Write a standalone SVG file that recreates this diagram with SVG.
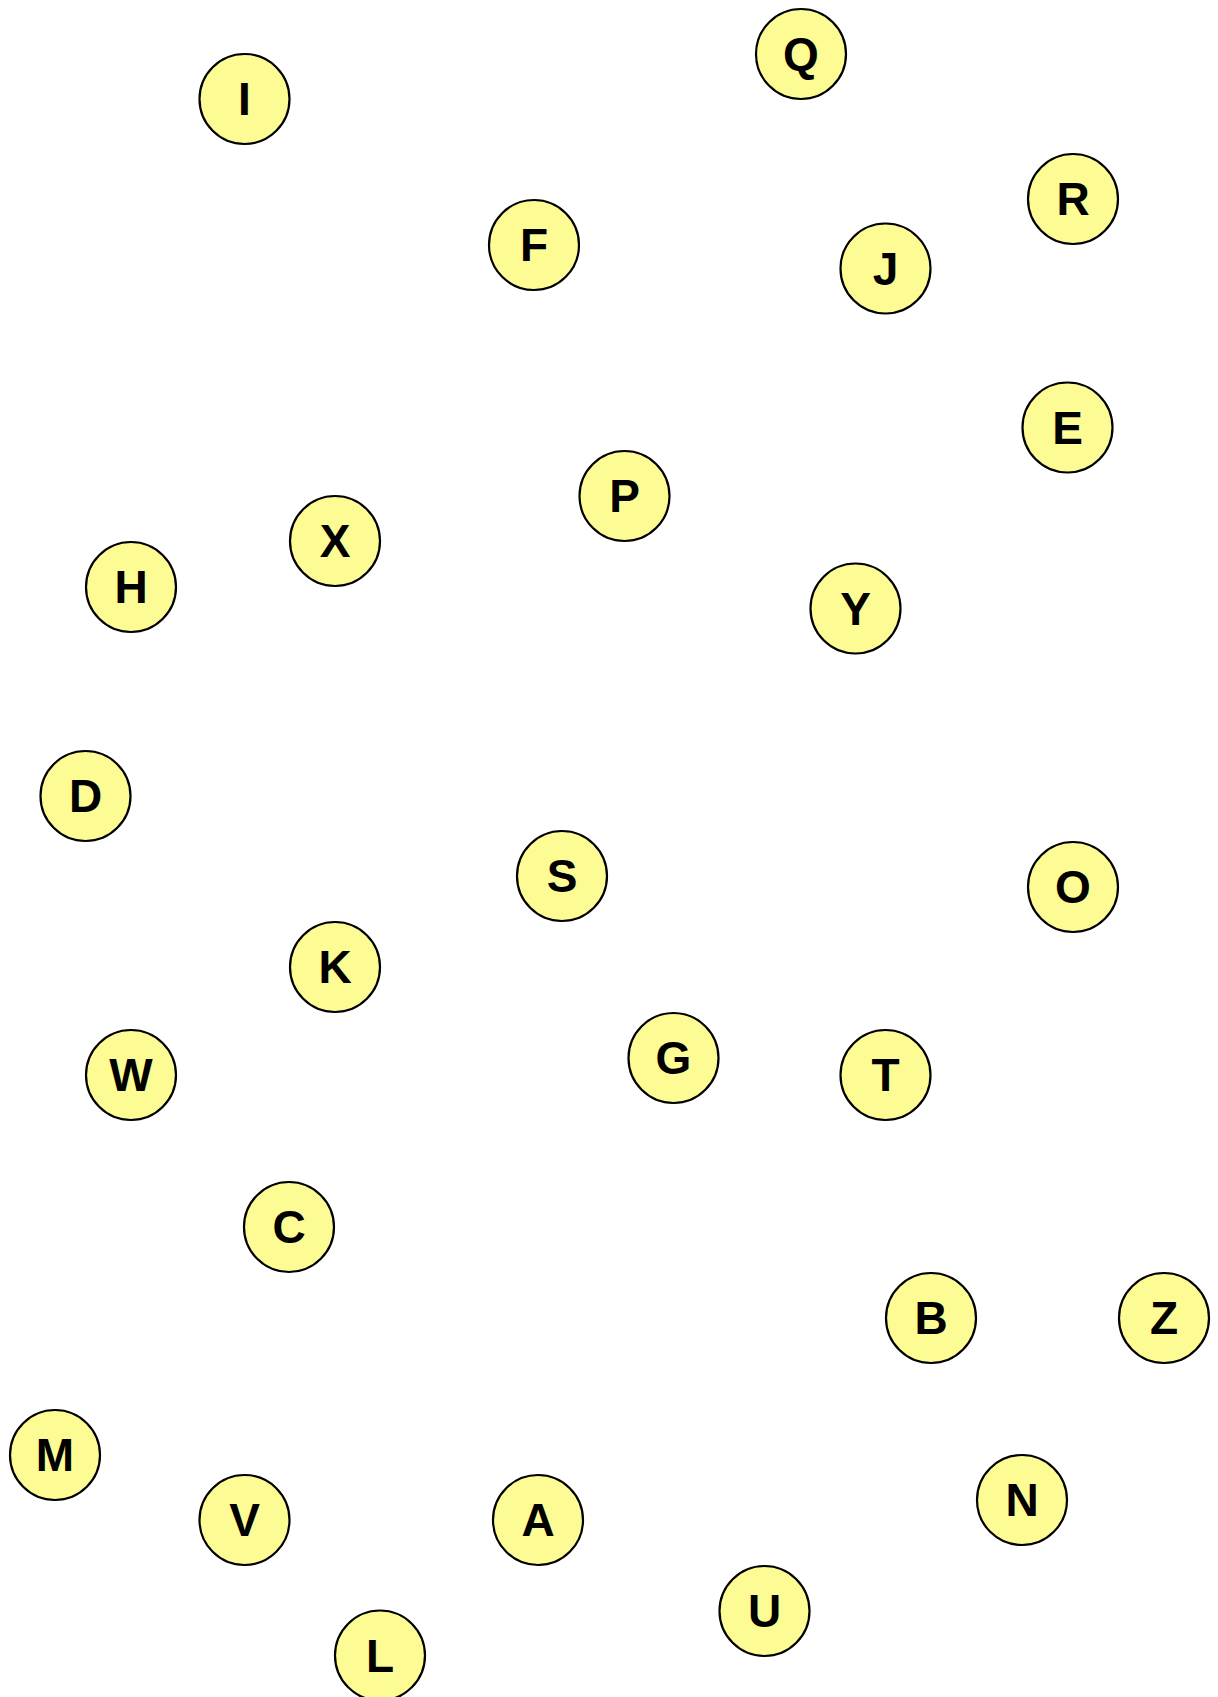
<svg xmlns="http://www.w3.org/2000/svg" width="1218" height="1697" viewBox="0 0 1218 1697">
<style>
.n circle{fill:#fcfb94;stroke:#000;stroke-width:2.2}
.n text{font-family:"Liberation Sans",Arial,sans-serif;font-weight:bold;font-size:46px;text-anchor:middle;dominant-baseline:central;fill:#000}
</style>
<rect width="1218" height="1697" fill="#fff"/>
<g id="connectors"></g>
<g id="node-I" class="n"><circle cx="244.5" cy="99" r="45"/><text x="244.5" y="99">I</text></g>
<g id="node-Q" class="n"><circle cx="801" cy="54" r="45"/><text x="801" y="54">Q</text></g>
<g id="node-R" class="n"><circle cx="1073" cy="199" r="45"/><text x="1073" y="199">R</text></g>
<g id="node-F" class="n"><circle cx="534" cy="245" r="45"/><text x="534" y="245">F</text></g>
<g id="node-J" class="n"><circle cx="885.5" cy="268.5" r="45"/><text x="885.5" y="268.5">J</text></g>
<g id="node-E" class="n"><circle cx="1067.5" cy="427.5" r="45"/><text x="1067.5" y="427.5">E</text></g>
<g id="node-P" class="n"><circle cx="624.5" cy="496" r="45"/><text x="624.5" y="496">P</text></g>
<g id="node-X" class="n"><circle cx="335" cy="541" r="45"/><text x="335" y="541">X</text></g>
<g id="node-H" class="n"><circle cx="131" cy="587" r="45"/><text x="131" y="587">H</text></g>
<g id="node-Y" class="n"><circle cx="855.5" cy="608.5" r="45"/><text x="855.5" y="608.5">Y</text></g>
<g id="node-D" class="n"><circle cx="85.5" cy="796" r="45"/><text x="85.5" y="796">D</text></g>
<g id="node-S" class="n"><circle cx="562" cy="876" r="45"/><text x="562" y="876">S</text></g>
<g id="node-O" class="n"><circle cx="1073" cy="887" r="45"/><text x="1073" y="887">O</text></g>
<g id="node-K" class="n"><circle cx="335" cy="967" r="45"/><text x="335" y="967">K</text></g>
<g id="node-G" class="n"><circle cx="673.5" cy="1058" r="45"/><text x="673.5" y="1058">G</text></g>
<g id="node-T" class="n"><circle cx="885.5" cy="1075" r="45"/><text x="885.5" y="1075">T</text></g>
<g id="node-W" class="n"><circle cx="131" cy="1075" r="45"/><text x="131" y="1075">W</text></g>
<g id="node-C" class="n"><circle cx="289" cy="1227" r="45"/><text x="289" y="1227">C</text></g>
<g id="node-B" class="n"><circle cx="931" cy="1318" r="45"/><text x="931" y="1318">B</text></g>
<g id="node-Z" class="n"><circle cx="1164" cy="1318" r="45"/><text x="1164" y="1318">Z</text></g>
<g id="node-M" class="n"><circle cx="55" cy="1455" r="45"/><text x="55" y="1455">M</text></g>
<g id="node-N" class="n"><circle cx="1022" cy="1500" r="45"/><text x="1022" y="1500">N</text></g>
<g id="node-V" class="n"><circle cx="244.5" cy="1520" r="45"/><text x="244.5" y="1520">V</text></g>
<g id="node-A" class="n"><circle cx="538" cy="1520" r="45"/><text x="538" y="1520">A</text></g>
<g id="node-U" class="n"><circle cx="764.5" cy="1611" r="45"/><text x="764.5" y="1611">U</text></g>
<g id="node-L" class="n"><circle cx="380" cy="1655.5" r="45"/><text x="380" y="1655.5">L</text></g>
</svg>
